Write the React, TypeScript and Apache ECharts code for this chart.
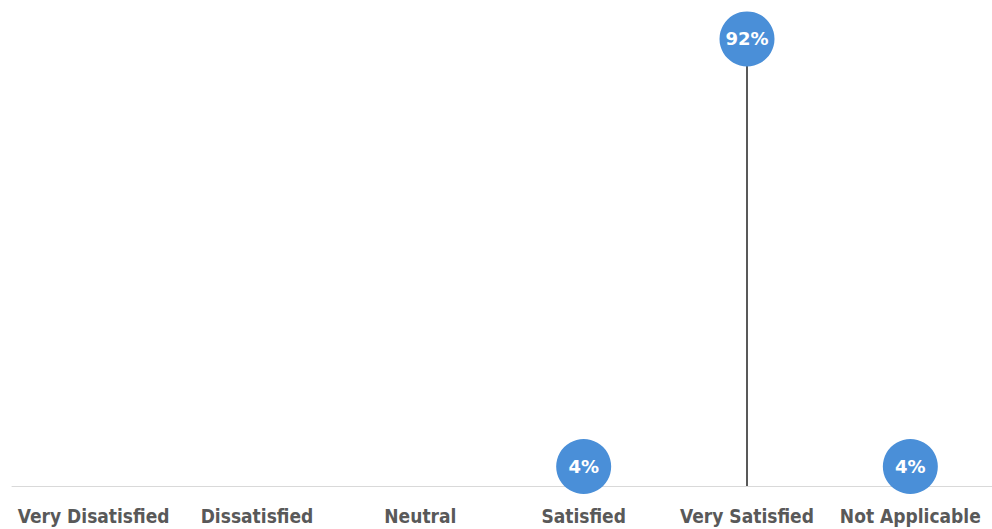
import React, { useEffect, useRef } from "react";
import * as echarts from "echarts";

const categories = ["Very Disatisfied", "Dissatisfied", "Neutral", "Satisfied", "Very Satisfied", "Not Applicable"];
const values = [0, 0, 0, 4, 92, 4];

export default function App() {
  const ref = useRef<HTMLDivElement>(null);
  useEffect(() => {
    const chart = echarts.init(ref.current!, null, { renderer: "svg" });
    chart.setOption({
      animation: false,
      grid: { left: 12, right: -3, top: -2, bottom: 43 },
      xAxis: {
        type: "category",
        data: categories,
        axisLine: { lineStyle: { color: "#d9d9d9", width: 1 } },
        axisTick: { show: false },
        axisLabel: {
          color: "#595959",
          fontWeight: "bold",
          fontSize: 19,
          fontFamily: "DejaVu Sans Condensed",
          margin: 20,
          interval: 0,
        },
      },
      yAxis: { type: "value", min: 0, max: 100, show: false, splitLine: { show: false } },
      series: [
        {
          type: "bar",
          data: values.map((v) => (v > 0 ? v : null)),
          barWidth: 2,
          itemStyle: { color: "#595959" },
          z: 1,
        },
        {
          type: "scatter",
          data: values.map((v) => (v > 0 ? v : null)),
          symbol: "circle",
          symbolSize: 55,
          itemStyle: { color: "#4a8fd8", opacity: 1 },
          label: {
            show: true,
            position: "inside",
            formatter: (p: any) => p.value + "%",
            color: "#ffffff",
            fontWeight: "bold",
            fontSize: 18,
            fontFamily: "DejaVu Sans",
          },
          z: 3,
        },
      ],
    });
    return () => chart.dispose();
  }, []);
  return <div ref={ref} style={{ position: "absolute", left: 0, top: 0, width: 992, height: 529 }} />;
}
